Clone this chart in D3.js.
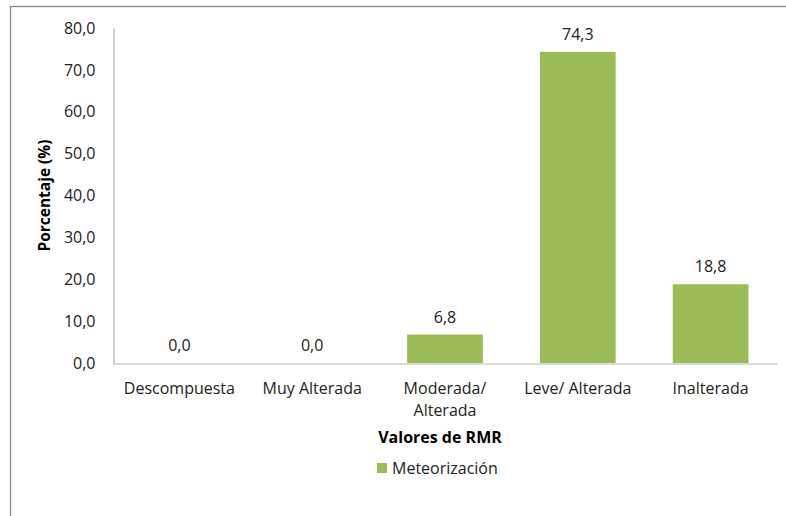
<!DOCTYPE html>
<html>
<head>
<meta charset="utf-8">
<script src="https://cdn.jsdelivr.net/npm/d3@7"></script>
<style>
  html, body { margin: 0; padding: 0; background: #fff; }
  svg { display: block; font-family: "Open Sans", "Noto Sans", sans-serif; }
</style>
</head>
<body>
<svg id="chart" width="786" height="516"></svg>
<script>
// Weathering classes (RMR) and their share in percent
const categories = ["Descompuesta", "Muy Alterada", "Moderada/ Alterada", "Leve/ Alterada", "Inalterada"];
const categoryLines = [["Descompuesta"], ["Muy Alterada"], ["Moderada/", "Alterada"], ["Leve/ Alterada"], ["Inalterada"]];
const meteorizacion = [0.0, 0.0, 6.8, 74.3, 18.8];
const yTicks = [0, 10, 20, 30, 40, 50, 60, 70, 80];
const seriesName = "Meteorización";

const svg = d3.select("#chart");
const fmt = v => v.toFixed(1).replace(".", ",");

const x = d3.scaleBand().domain(categories).range([113, 777]).paddingInner(0.43).paddingOuter(0.215);
const y = d3.scaleLinear().domain([0, 80]).range([363, 28]);

// outer chart frame (runs past the right and bottom edges)
svg.append("rect")
  .attr("x", 10.5).attr("y", 6.5).attr("width", 800).attr("height", 560)
  .attr("fill", "none").attr("stroke", "#868686").attr("stroke-width", 1.3);

// bars
svg.append("g").selectAll("rect").data(meteorizacion).join("rect")
  .attr("x", (d, i) => x(categories[i]))
  .attr("width", x.bandwidth())
  .attr("y", d => y(d))
  .attr("height", d => y(0) - y(d))
  .attr("fill", "#9bbb59");

// value labels
svg.append("g").selectAll("text").data(meteorizacion).join("text")
  .attr("x", (d, i) => x(categories[i]) + x.bandwidth() / 2)
  .attr("y", d => y(d) - 12)
  .attr("text-anchor", "middle")
  .attr("font-size", 16).attr("fill", "#222")
  .text(d => fmt(d));

// y axis
const yAxis = d3.axisLeft(y).tickValues(yTicks).tickSize(0).tickPadding(18).tickFormat(fmt);
const gy = svg.append("g").attr("transform", "translate(113.5,0)").call(yAxis);
gy.select(".domain").attr("stroke", "#b3b3b3").attr("stroke-width", 1.2);
gy.selectAll("text").attr("font-size", 16).attr("fill", "#222").attr("font-family", "Open Sans");

// x axis
const xAxis = d3.axisBottom(x).tickSize(0).tickFormat("");
const gx = svg.append("g").attr("transform", "translate(0,363.5)").call(xAxis);
gx.select(".domain").attr("stroke", "#b3b3b3").attr("stroke-width", 1.2);

// category labels (wrapped)
const labels = svg.append("g").selectAll("text").data(categories).join("text")
  .attr("x", d => x(d) + x.bandwidth() / 2)
  .attr("y", 394)
  .attr("text-anchor", "middle")
  .attr("font-size", 16).attr("fill", "#222");
labels.each(function (d, i) {
  d3.select(this).selectAll("tspan").data(categoryLines[i]).join("tspan")
    .attr("x", x(d) + x.bandwidth() / 2)
    .attr("dy", (t, j) => j === 0 ? 0 : 22)
    .text(t => t);
});

// axis titles
svg.append("text")
  .attr("transform", "translate(50,195.5) rotate(-90)")
  .attr("text-anchor", "middle")
  .attr("font-size", 15.5).attr("font-weight", "bold").attr("fill", "#000")
  .text("Porcentaje (%)");

svg.append("text")
  .attr("x", 440).attr("y", 443)
  .attr("text-anchor", "middle")
  .attr("font-size", 16).attr("font-weight", "bold").attr("fill", "#000")
  .text("Valores de RMR");

// legend
const legend = svg.append("g").attr("transform", "translate(377,463)");
legend.append("rect").attr("width", 10).attr("height", 10).attr("fill", "#9bbb59");
legend.append("text").attr("x", 15).attr("y", 10.5)
  .attr("font-size", 16).attr("fill", "#222").text(seriesName);
</script>
</body>
</html>
